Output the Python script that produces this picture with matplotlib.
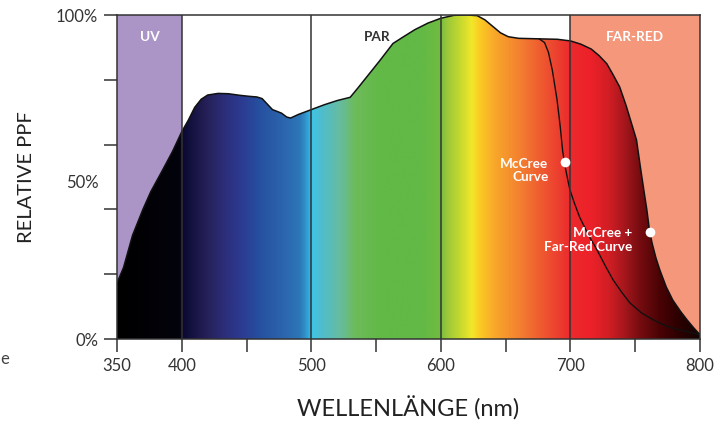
import numpy as np
import matplotlib
matplotlib.use("Agg")
import matplotlib.pyplot as plt
from matplotlib.colors import LinearSegmentedColormap
from matplotlib.patches import Polygon

plt.rcParams['font.family'] = ['Lato', 'DejaVu Sans']

# ---- data ----
main_nm = [350, 355, 362, 370, 376, 385, 393, 400, 405, 410, 415, 420, 428, 436, 445, 452,
           458, 462, 466, 470, 477, 481, 484, 490, 500, 510, 520, 530, 536, 543, 553, 563,
           570, 580, 590, 600, 610, 620, 628, 634, 640, 646, 652, 660, 670, 680, 690, 700,
           708, 716, 722, 728, 733, 738, 743, 748, 751, 754, 757, 759, 761, 763, 766, 769,
           774, 779, 785, 790, 795, 800]
main_val = [17.3, 22, 32, 40, 45.4, 52, 58, 64, 67.5, 71.5, 74, 75.3, 75.8, 75.7, 75.2, 74.9,
            74.7, 74.2, 72.5, 70.8, 69.7, 68.5, 68.2, 69.3, 70.8, 72.3, 73.6, 74.6, 77.5, 81, 86, 91.2,
            93, 95.5, 97.5, 99, 99.9, 100, 99.8, 98.5, 96.5, 94.5, 93.3, 92.8, 92.7, 92.6, 92.5, 92,
            91, 89.5, 87.5, 85, 81.5, 77.8, 72, 65.4, 61.4, 53, 45, 39.8, 33.5, 29.6, 25, 21.3,
            16, 12, 8.5, 5.9, 3.5, 1.3]

mccree_nm = [676, 680, 683, 686, 689.6, 692, 694, 696, 698, 699.6, 703, 707, 714, 720.5, 727,
             733, 740, 746, 755, 764, 774, 784.5, 792, 800]
mccree_val = [92.6, 91.5, 88.5, 83, 74, 66, 58, 53, 49, 46, 42, 37.7, 32, 27.5, 22.5,
              18.2, 14.2, 11.1, 8, 5.9, 4, 2.8, 2.1, 1.3]

regions = ["UV", "PAR", "FAR-RED"]
region_bounds = [(350, 400), (400, 700), (700, 800)]

x_ticks = [350, 400, 450, 500, 550, 600, 650, 700, 750, 800]
x_ticklabels = ["350", "400", "", "500", "", "600", "", "700", "", "800"]
y_ticks = [0, 20, 40, 60, 80, 100]
y_ticklabels = ["0%", "", "", "", "", "100%"]

# spectrum colour stops (wavelength, colour)
spec_nm = [350, 398, 401, 418, 433, 445, 460, 476, 491, 495, 499, 501, 507, 522, 534, 553,
           584, 599, 605, 615, 619, 624, 630, 642, 661, 676, 692, 700, 715, 730, 742, 754,
           769, 785, 800]
spec_col = ["#000000", "#03030c", "#0b0a33", "#241f55", "#2c2e7a", "#2c3a90", "#2650a0",
            "#2b62ab", "#2c77b8", "#3290c8", "#2eb6e6", "#40c5e3", "#4ebdd0", "#66bca0",
            "#6dbb5a", "#62b946", "#62b946", "#6fbc40", "#9bc83a", "#c6d92f", "#d8de2c",
            "#f2e82a", "#fbcb24", "#f8a72a", "#f38030", "#ef5e30", "#ec3c2f", "#eb2a2e",
            "#ee2129", "#d11e24", "#a5171d", "#760c10", "#4a0305", "#2a0000", "#160000"]

# ---- figure ----
fig = plt.figure(figsize=(7.24, 4.24), dpi=100)
ax = fig.add_axes([117/724, 1-339/424, (700-117)/724, (339-15)/424])
ax.set_xlim(350, 800)
ax.set_ylim(0, 100)

uv_col, far_col = "#ab95c7", "#f4977b"
ax.axvspan(*region_bounds[0], color=uv_col, zorder=0, lw=0)
ax.axvspan(*region_bounds[2], color=far_col, zorder=0, lw=0)

# gradient
pos = [(n - 350) / 450 for n in spec_nm]
cmap = LinearSegmentedColormap.from_list("spec", list(zip(pos, spec_col)), N=1024)
grad = np.linspace(0, 1, 1200).reshape(1, -1)
im = ax.imshow(grad, cmap=cmap, extent=[350, 800, 0, 100], aspect='auto',
               origin='lower', zorder=1, interpolation='bilinear')
verts = list(zip(main_nm, main_val)) + [(800, 0), (350, 0)]
poly = Polygon(verts, closed=True, facecolor='none', edgecolor='none')
ax.add_patch(poly)
im.set_clip_path(poly)

ax.plot(main_nm, main_val, color="#111111", lw=1.1, zorder=3)
ax.plot(mccree_nm, mccree_val, color="#111111", lw=1.0, zorder=3)

line_col = "#333333"
for xv in [400, 500, 600, 700]:
    ax.axvline(xv, color=line_col, lw=1.1, zorder=4)

for s in ax.spines.values():
    s.set_color(line_col)
    s.set_linewidth(1.1)
    s.set_zorder(5)

# region labels
lab_fs = 9.8
ax.text(375, 93.2, regions[0], color="white", fontsize=lab_fs, fontweight='bold', ha='center', va='center', zorder=6)
ax.text(550.7, 93.2, regions[1], color="#333333", fontsize=lab_fs, fontweight='bold', ha='center', va='center', zorder=6)
ax.text(750, 93.2, regions[2], color="white", fontsize=lab_fs, fontweight='bold', ha='center', va='center', zorder=6)

# annotations
ax.plot([696, 761.5], [54.6, 33], 'o', color='white', ms=7, mec='none', zorder=7)
ax.text(683, 52, "McCree\nCurve", color="white", fontsize=lab_fs, fontweight='bold',
        ha='right', va='center', multialignment='right', linespacing=1.15, zorder=7)
ax.text(748, 30.5, "McCree +\nFar-Red Curve", color="white", fontsize=lab_fs, fontweight='bold',
        ha='right', va='center', multialignment='right', linespacing=1.15, zorder=7)

# ticks
ax.set_xticks(x_ticks)
ax.set_xticklabels(x_ticklabels)
ax.set_yticks(y_ticks)
ax.set_yticklabels(y_ticklabels)
ax.set_yticks([48.5], minor=True)
ax.set_yticklabels(["50%"], minor=True)
ax.tick_params(axis='both', which='major', direction='out', length=9.5, width=1.1,
               color=line_col, labelcolor="#333333", labelsize=12)
ax.tick_params(axis='x', which='major', pad=4)
ax.tick_params(axis='y', which='major', pad=4)
ax.tick_params(axis='y', which='minor', length=0, pad=13.5, labelcolor="#333333", labelsize=12)

ax.set_xlabel("WELLENLÄNGE (nm)", fontsize=17, color="#222222", labelpad=16)
ax.set_ylabel("RELATIVE PPF", fontsize=14.5, color="#222222", labelpad=15)

fig.text(0.0, 1-359/424, "e", fontsize=12, color="#444444", ha='left', va='center')

fig.savefig("out.png", dpi=100)
